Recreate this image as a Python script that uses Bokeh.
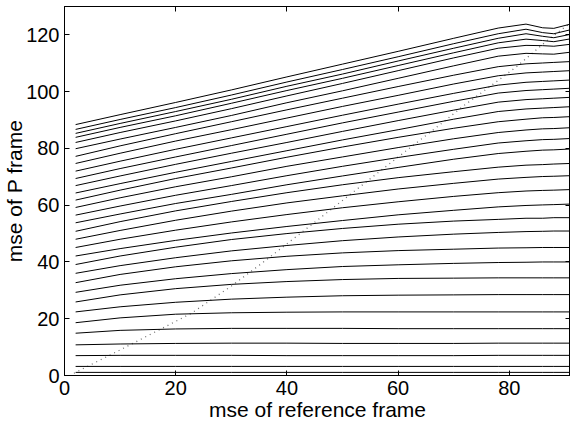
from bokeh.plotting import figure
from bokeh.models import FixedTicker, Range1d, LinearAxis, CustomLabelingPolicy
from bokeh.embed import file_html
from bokeh.resources import INLINE

# x positions (mse of reference frame)
xs = [2, 10, 20, 30, 40, 50, 60, 70, 78, 83, 86, 88, 91]

# mse of P frame, one curve per list (top to bottom)
c01 = [88.4, 91.9, 96.2, 100.6, 105.2, 109.7, 114.2, 118.8, 122.4, 123.8, 122.5, 122.3, 123.8]
c02 = [86.7, 90.2, 94.4, 98.8, 103.4, 107.8, 112.3, 116.9, 120.4, 122.0, 120.8, 120.4, 121.8]
c03 = [85.3, 88.8, 93.0, 97.3, 101.9, 106.2, 110.8, 115.3, 118.8, 120.4, 119.5, 119.0, 120.2]
c04 = [83.9, 87.4, 91.5, 95.9, 100.4, 104.7, 109.2, 113.7, 117.2, 118.5, 118.0, 117.6, 118.6]
c05 = [82.1, 85.6, 89.7, 94.0, 98.5, 102.9, 107.4, 111.9, 115.3, 116.3, 116.2, 116.0, 116.7]
c06 = [79.9, 83.3, 87.4, 91.6, 96.1, 100.3, 104.7, 109.1, 112.5, 113.5, 113.3, 113.2, 113.9]
c07 = [77.2, 80.9, 85.2, 89.4, 93.6, 97.7, 101.8, 105.8, 108.8, 109.8, 110.1, 110.3, 110.6]
c08 = [74.7, 78.3, 82.6, 86.6, 90.7, 94.8, 98.7, 102.7, 105.6, 106.6, 106.9, 107.1, 107.4]
c09 = [72.0, 75.5, 79.7, 83.7, 87.7, 91.7, 95.6, 99.4, 102.3, 103.3, 103.6, 103.8, 104.1]
c10 = [69.4, 72.9, 77.0, 81.0, 85.0, 89.0, 92.8, 96.6, 99.5, 100.4, 100.7, 100.9, 101.2]
c11 = [66.9, 70.3, 74.4, 78.3, 82.1, 86.0, 89.8, 93.5, 96.3, 97.2, 97.5, 97.7, 98.0]
c12 = [64.3, 67.6, 71.6, 75.4, 79.2, 83.0, 86.6, 90.3, 93.0, 93.9, 94.2, 94.4, 94.7]
c13 = [61.8, 65.3, 69.4, 73.1, 76.9, 80.5, 83.9, 87.1, 89.4, 90.3, 90.8, 90.9, 91.2]
c14 = [59.2, 62.6, 66.5, 70.0, 73.7, 77.0, 80.3, 83.4, 85.6, 86.5, 86.9, 87.0, 87.3]
c15 = [56.5, 59.7, 63.5, 66.9, 70.4, 73.7, 76.8, 79.7, 81.9, 82.7, 83.1, 83.2, 83.5]
c16 = [53.8, 56.9, 60.6, 63.8, 67.2, 70.3, 73.3, 76.2, 78.2, 79.0, 79.4, 79.5, 79.8]
c17 = [50.8, 54.2, 58.0, 61.3, 64.4, 67.2, 69.7, 71.8, 73.4, 74.1, 74.3, 74.5, 74.7]
c18 = [48.0, 51.1, 54.7, 57.9, 60.8, 63.3, 65.7, 67.7, 69.2, 69.8, 70.1, 70.2, 70.4]
c19 = [45.1, 48.0, 51.2, 54.1, 56.7, 59.1, 61.2, 63.1, 64.4, 65.0, 65.2, 65.3, 65.5]
c20 = [42.1, 44.7, 47.6, 50.2, 52.5, 54.6, 56.6, 58.2, 59.4, 59.9, 60.1, 60.2, 60.4]
c21 = [39.1, 42.1, 45.2, 47.9, 50.0, 51.8, 53.3, 54.4, 55.0, 55.4, 55.4, 55.6, 55.6]
c22 = [36.0, 38.7, 41.5, 43.9, 45.8, 47.5, 48.8, 49.8, 50.4, 50.7, 50.8, 50.9, 50.9]
c23 = [32.7, 35.6, 38.3, 40.4, 42.0, 43.2, 44.0, 44.5, 44.9, 45.0, 45.1, 45.1, 45.1]
c24 = [29.3, 31.8, 34.1, 35.9, 37.3, 38.4, 39.0, 39.5, 39.8, 39.9, 40.0, 40.0, 40.0]
c25 = [25.9, 28.4, 30.6, 32.1, 33.1, 33.8, 34.2, 34.3, 34.4, 34.4, 34.4, 34.4, 34.4]
c26 = [22.4, 24.2, 25.8, 26.9, 27.6, 28.1, 28.3, 28.4, 28.5, 28.5, 28.5, 28.5, 28.5]
c27 = [18.6, 20.3, 21.6, 22.1, 22.3, 22.4, 22.4, 22.4, 22.4, 22.4, 22.4, 22.4, 22.4]
c28 = [14.9, 15.9, 16.4, 16.6, 16.6, 16.6, 16.5, 16.5, 16.5, 16.5, 16.5, 16.5, 16.5]
c29 = [10.8, 11.1, 11.3, 11.4, 11.4, 11.3, 11.3, 11.3, 11.4, 11.4, 11.4, 11.4, 11.4]
c30 = [7.0, 7.1, 7.1, 7.1, 7.0, 7.0, 7.0, 7.0, 7.1, 7.1, 7.1, 7.1, 7.1]
c31 = [3.2, 3.2, 3.2, 3.2, 3.2, 3.2, 3.2, 3.2, 3.2, 3.2, 3.2, 3.2, 3.2]
c32 = [1.1, 1.1, 1.1, 1.1, 1.1, 1.1, 1.1, 1.1, 1.1, 1.1, 1.1, 1.1, 1.1]

curves = [c01, c02, c03, c04, c05, c06, c07, c08, c09, c10, c11, c12, c13, c14, c15, c16,
          c17, c18, c19, c20, c21, c22, c23, c24, c25, c26, c27, c28, c29, c30, c31, c32]

# dotted reference curve
dot_x = [1.7, 10, 22.8, 30, 35.4, 45, 57, 67.8, 71.7, 78.1, 81.3, 86.8, 90.5]
dot_y = [0.8, 9.0, 21.9, 31.5, 39.4, 54.0, 72.4, 88.8, 94.9, 104.1, 108.8, 118.0, 123.5]

x_ticks = [0, 20, 40, 60, 80]
y_ticks = [0, 20, 40, 60, 80, 100, 120]

FONT = "Liberation Sans"

p = figure(width=570, height=423, output_backend="svg", toolbar_location=None,
           x_range=Range1d(0, 91), y_range=Range1d(0, 130),
           min_border_left=63, min_border_right=0, min_border_top=6, min_border_bottom=48)
p.background_fill_color = "white"
p.border_fill_color = "white"
p.outline_line_color = "black"
p.outline_line_width = 1
p.xgrid.grid_line_color = None
p.ygrid.grid_line_color = None

p.line(dot_x, dot_y, line_color="#707070", line_width=1.3, line_dash="1 4")
for c in curves:
    p.line(xs, c, line_color="black", line_width=1)


def style(ax, ticks):
    ax.ticker = FixedTicker(ticks=ticks)
    ax.axis_line_color = "black"
    ax.major_tick_in = 5
    ax.major_tick_out = 0
    ax.minor_tick_line_color = None
    ax.major_tick_line_color = "black"
    ax.major_label_text_font = FONT
    ax.major_label_text_font_size = "20px"
    ax.major_label_text_color = "black"
    ax.axis_label_text_font = FONT
    ax.axis_label_text_font_style = "normal"
    ax.axis_label_text_color = "black"
    ax.axis_label_text_font_size = "21px"


xa = p.xaxis[0]
ya = p.yaxis[0]
style(xa, x_ticks)
style(ya, y_ticks)
xa.axis_label = "mse of reference frame"
ya.axis_label = "mse of P frame"
xa.major_label_standoff = 5
xa.axis_label_standoff = 0
ya.major_label_standoff = 5
ya.axis_label_standoff = -3

# mirrored inward ticks on the top and right sides (no labels)
hide_all = CustomLabelingPolicy(code="""
try { for (const i of Array.from(indices)) { indices.unset(i) } } catch (e) {}
return indices
""")
for side, ticks in (("above", x_ticks), ("right", y_ticks)):
    ax = LinearAxis()
    style(ax, ticks)
    ax.major_label_policy = hide_all
    ax.major_label_text_font_size = "0px"
    ax.major_label_standoff = 0
    p.add_layout(ax, side)

open("out.html", "w").write(file_html(p, INLINE))
